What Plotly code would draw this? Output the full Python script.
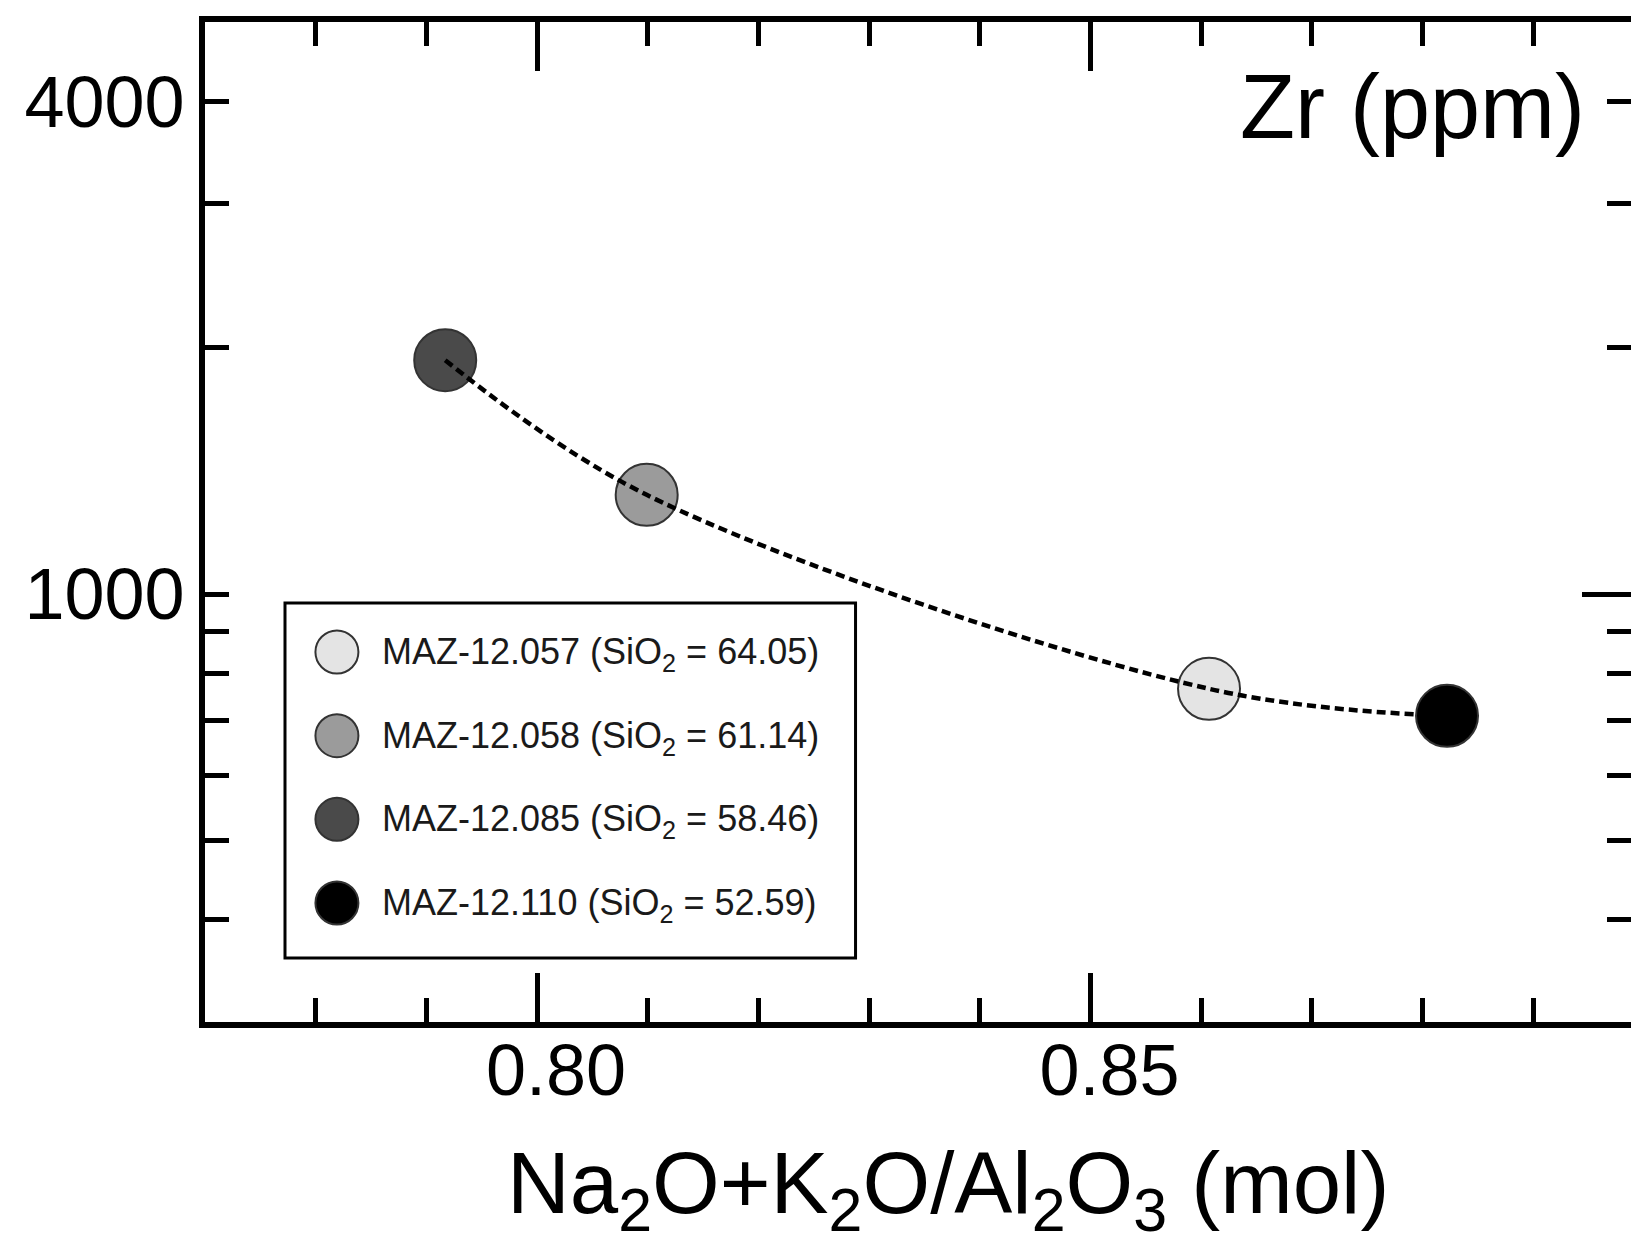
import numpy as np
import plotly.graph_objects as go

# ---------------- data ----------------
samples = ["MAZ-12.057", "MAZ-12.058", "MAZ-12.085", "MAZ-12.110"]
sio2 = ["64.05", "61.14", "58.46", "52.59"]
alkali_ratio = [0.8607, 0.8099, 0.7917, 0.8822]   # Na2O+K2O/Al2O3 (mol)
zr_ppm = [766, 1322, 1931, 710]                   # Zr (ppm)
colors = ["#e4e4e4", "#9b9b9b", "#4a4a4a", "#000000"]

x_major_ticks = [0.80, 0.85]
x_major_labels = ["0.80", "0.85"]
x_minor_ticks = [0.78, 0.79, 0.81, 0.82, 0.83, 0.84, 0.86, 0.87, 0.88, 0.89]
y_label_ticks = [1000, 4000]
y_label_text = ["1000", "4000"]
y_long_ticks = [1000]
y_minor_ticks = [400, 500, 600, 700, 800, 900, 2000, 3000]
y_right_minor = [400, 500, 600, 700, 800, 900, 2000, 3000, 4000]

x_range = [0.77, 0.89882]
y_range = [np.log10(300), np.log10(5000)]

FONT = "Liberation Sans, Arial, sans-serif"
LW = 6
TW = 5

# line ordered along x
order = np.argsort(alkali_ratio)
line_x = [alkali_ratio[i] for i in order]
line_y = [zr_ppm[i] for i in order]

fig = go.Figure()

# dashed trend line (on top/right overlay axes with identical ranges)
fig.add_trace(go.Scatter(
    x=line_x, y=line_y, mode="lines", xaxis="x2", yaxis="y2",
    line=dict(color="black", width=4.5, dash="9px,5px", shape="spline", smoothing=1.0),
    hoverinfo="skip", showlegend=False))

# sample points
fig.add_trace(go.Scatter(
    x=alkali_ratio, y=zr_ppm, mode="markers",
    marker=dict(size=62, color=colors, line=dict(color="#333333", width=2)),
    text=samples, showlegend=False))

# manual legend swatches
idx = list(range(len(samples)))
fig.add_trace(go.Scatter(
    x=[0.091] * len(samples), y=idx, mode="markers", xaxis="x3", yaxis="y4",
    marker=dict(size=43, color=colors, line=dict(color="#333333", width=2)),
    hoverinfo="skip", showlegend=False))

for i, (s, si) in enumerate(zip(samples, sio2)):
    fig.add_annotation(
        x=0.166, y=i, xref="x3", yref="y4", xanchor="left", yanchor="middle",
        yshift=-2, showarrow=False,
        text=f"{s} (SiO<sub>2</sub> = {si})",
        font=dict(family=FONT, size=36, color="#1a1a1a"))

fig.add_shape(type="rect", xref="x3 domain", yref="y4 domain",
              x0=0, x1=1, y0=0, y1=1, line=dict(color="black", width=3),
              fillcolor="rgba(0,0,0,0)")

# axis titles
fig.add_annotation(
    x=0.9688, y=0.9155, xref="paper", yref="paper", xanchor="right", yanchor="middle",
    showarrow=False, text="Zr (ppm)", font=dict(family=FONT, size=90, color="black"))
fig.add_annotation(
    x=(948 - 205) / 1426, y=-0.167, xref="paper", yref="paper", xanchor="center", yanchor="middle",
    showarrow=False,
    text="Na<sub>2</sub>O+K<sub>2</sub>O/Al<sub>2</sub>O<sub>3</sub> (mol)",
    font=dict(family=FONT, size=87, color="black"))

xcommon = dict(range=x_range, ticks="inside", tickvals=x_major_ticks, ticklen=49,
               tickwidth=TW, tickcolor="black", showgrid=False, zeroline=False,
               minor=dict(tickmode="array", tickvals=x_minor_ticks, ticks="inside",
                          ticklen=24, tickwidth=TW, tickcolor="black", showgrid=False))

fig.update_layout(
    width=1631, height=1242, autosize=False,
    margin=dict(l=205, r=0, t=22, b=220, pad=0),
    paper_bgcolor="white", plot_bgcolor="white",
    showlegend=False,
    xaxis=dict(**xcommon, ticktext=x_major_labels, showline=True, linewidth=LW,
               linecolor="black", mirror=False, side="bottom", anchor="y",
               ticklabelshift=19, ticklabelstandoff=-19,
               tickfont=dict(family=FONT, size=72, color="black")),
    xaxis2=dict(**xcommon, overlaying="x", side="top", anchor="y2", showline=True,
                linewidth=LW, linecolor="black", showticklabels=False),
    yaxis=dict(type="log", range=y_range, ticks="inside", tickvals=y_label_ticks,
               ticktext=y_label_text, ticklen=24, tickwidth=TW, tickcolor="black",
               showline=True, linewidth=LW, linecolor="black", showgrid=False,
               zeroline=False, anchor="x", ticklabelstandoff=0,
               tickfont=dict(family=FONT, size=72, color="black"),
               minor=dict(tickmode="array", tickvals=y_minor_ticks, ticks="inside",
                          ticklen=24, tickwidth=TW, tickcolor="black", showgrid=False)),
    yaxis2=dict(type="log", range=y_range, overlaying="y", side="right", anchor="x2",
                ticks="inside", tickvals=y_long_ticks, ticklen=49, tickwidth=TW,
                tickcolor="black", showline=False, showgrid=False, zeroline=False,
                showticklabels=False,
                minor=dict(tickmode="array", tickvals=y_right_minor, ticks="inside",
                           ticklen=24, tickwidth=TW, tickcolor="black", showgrid=False)),
    yaxis3=dict(type="log", range=y_range, overlaying="y", side="left", anchor="x",
                ticks="inside", tickvals=y_long_ticks, ticklen=49, tickwidth=TW,
                tickcolor="black", showline=False, showgrid=False, zeroline=False,
                showticklabels=False),
    xaxis3=dict(domain=[0.0561, 0.4562], range=[0, 1], anchor="y4", visible=False),
    yaxis4=dict(domain=[0.064, 0.419], range=[3.657, -0.5857], anchor="x3", visible=False),
)

fig.write_html("out.html")
